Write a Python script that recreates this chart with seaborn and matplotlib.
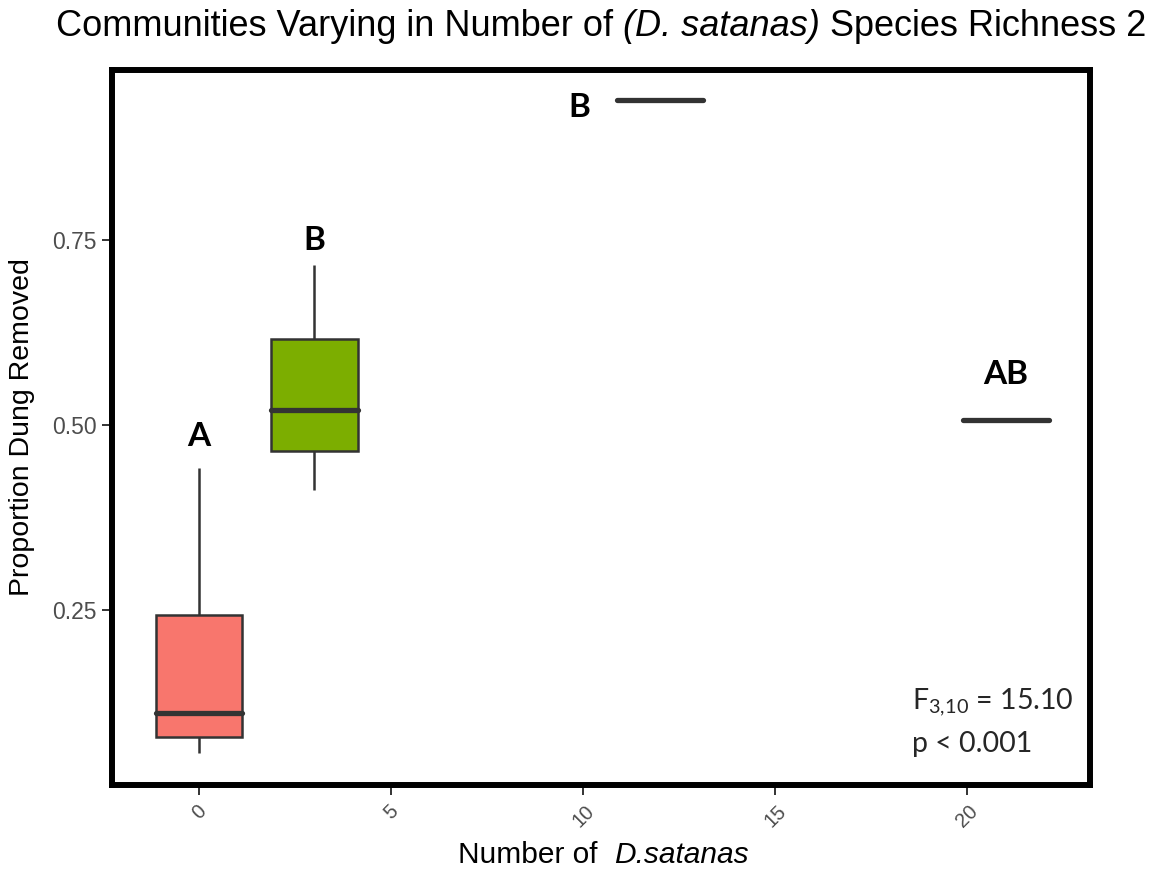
import matplotlib
matplotlib.use("Agg")
import matplotlib.pyplot as plt
import seaborn as sns
import pandas as pd

# ---- data ----
n_satanas = [0, 3, 12, 21]
group_labels = ["0", "3", "12", "21"]
values_0 = [0.057, 0.078, 0.111, 0.243, 0.442]
values_3 = [0.412, 0.465, 0.520, 0.616, 0.716]
values_12 = [0.939]
values_21 = [0.507]
fill_colors = ["#F8766D", "#7CAE00", "#00BFC4", "#C77CFF"]
letters = ["A", "B", "B", "AB"]
letter_x = [0, 3, 9.9, 21]
letter_y = [0.484, 0.750, 0.930, 0.568]
x_ticks = [0, 5, 10, 15, 20]
y_ticks = [0.25, 0.50, 0.75]
y_tick_labels = ["0.25", "0.50", "0.75"]
title_parts = [("Communities Varying in Number of ", "normal"),
               ("(D. satanas)", "italic"),
               (" Species Richness 2", "normal")]
xlabel_parts = [("Number of  ", "normal"), ("D.satanas", "italic")]

rows = []
for n, lab, vals in zip(n_satanas, group_labels, [values_0, values_3, values_12, values_21]):
    for v in vals:
        rows.append({"n": n, "grp": lab, "prop": v})
df = pd.DataFrame(rows)

sns.set_theme(style="white")
plt.rcParams["font.family"] = ["Liberation Sans", "DejaVu Sans"]
plt.rcParams["mathtext.fontset"] = "custom"
plt.rcParams["mathtext.rm"] = "Lato"

W, H = 1156, 869
fig = plt.figure(figsize=(W / 100, H / 100), dpi=100)
ax = fig.add_axes([0.0969, 0.0967, 0.9431 - 0.0969, 0.9194 - 0.0967])

sns.boxplot(
    data=df, x="n", y="prop", hue="grp",
    palette=dict(zip(group_labels, fill_colors)), saturation=1,
    native_scale=True, width=0.75, linecolor="#333333", linewidth=1.8,
    showcaps=False, legend=False, ax=ax,
    medianprops=dict(linewidth=3.8, solid_capstyle="round"),
)

ax.set_xlim(-2.27, 23.2)
ax.set_ylim(0.0135, 0.98)
ax.set_xticks(x_ticks)
ax.set_xticklabels([str(t) for t in x_ticks], rotation=45, ha="center")
ax.set_yticks(y_ticks)
ax.set_yticklabels(y_tick_labels)
ax.tick_params(axis="both", which="both", direction="out", length=7, width=1.4,
               color="#333333", labelcolor="#4D4D4D",
               bottom=True, left=True)
ax.tick_params(axis="y", labelsize=16.5, pad=4)
ax.tick_params(axis="x", labelsize=14.5, pad=5)
for s in ax.spines.values():
    s.set_visible(True)
    s.set_color("black")
    s.set_linewidth(4.3)

ax.set_xlabel("")
ax.set_ylabel("Proportion Dung Removed", fontsize=20.5, color="black", labelpad=12)


def compose(parts, cx, cy, size, gap=0.0):
    fig.canvas.draw()
    r = fig.canvas.get_renderer()
    texts, widths = [], []
    for s, st in parts:
        t = fig.text(0, cy, s, fontsize=size, style=st, ha="left", va="center",
                     color="black")
        widths.append(t.get_window_extent(r).width)
        texts.append(t)
    total = sum(widths) + gap * (len(parts) - 1)
    x = cx * W - total / 2
    for t, w in zip(texts, widths):
        t.set_x(x / W)
        x += w + gap


compose(title_parts, 601 / W, 1 - 26 / H, 26)
compose(xlabel_parts, 603 / W, 1 - 855 / H, 21.5)

for lx, ly, t in zip(letter_x, letter_y, letters):
    ax.text(lx, ly, t, ha="center", va="center", fontsize=24,
            fontweight="bold", family=["Lato", "DejaVu Sans"], color="black")

ax.text(0.818, 0.105, r"F$_{\mathrm{3{,}10}}$ = 15.10", transform=ax.transAxes,
        ha="left", va="baseline", fontsize=20.5, family=["Lato", "DejaVu Sans"])
ax.text(0.818, 0.046, "p < 0.001", transform=ax.transAxes,
        ha="left", va="baseline", fontsize=20.5, family=["Lato", "DejaVu Sans"])

fig.savefig("out.png", dpi=100, facecolor="white")
